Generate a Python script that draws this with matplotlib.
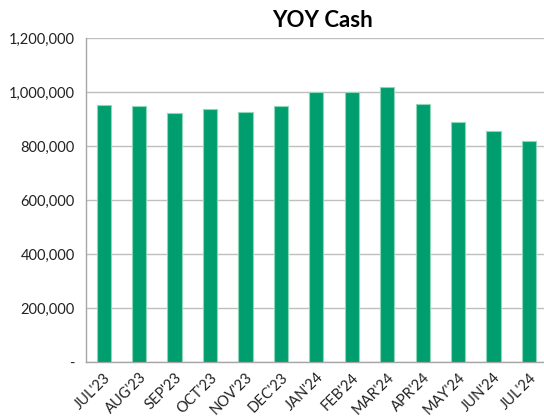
import matplotlib.pyplot as plt
import numpy as np
from matplotlib.ticker import FuncFormatter

months = ["JUL'23", "AUG'23", "SEP'23", "OCT'23", "NOV'23", "DEC'23",
          "JAN'24", "FEB'24", "MAR'24", "APR'24", "MAY'24", "JUN'24", "JUL'24"]
cash = [954000, 947000, 922000, 936000, 926000, 948000,
        1000000, 1000000, 1018000, 956000, 889000, 857000, 819000]
y_ticks = [0, 200000, 400000, 600000, 800000, 1000000, 1200000]

plt.rcParams["font.family"] = ["Lato", "DejaVu Sans"]

fig = plt.figure(figsize=(5.44, 4.19), dpi=100)
ax = fig.add_axes([0.158, 0.136, 0.847, 0.773])

x = np.arange(len(months))
ax.bar(x, cash, width=0.4, color="#009E6E", edgecolor="#8FD6B8", linewidth=0.8, zorder=3)

ax.set_xlim(-0.5, len(months) - 0.5)
ax.set_ylim(0, 1200000)
ax.set_yticks(y_ticks)
ax.yaxis.set_major_formatter(FuncFormatter(lambda v, _: "-" if v == 0 else f"{v:,.0f}"))
ax.set_xticks(x)
ax.set_xticklabels(months, rotation=45, ha="right", rotation_mode="anchor")

ax.tick_params(axis="both", length=0, labelsize=10.5, colors="#222222")
ax.tick_params(axis="y", pad=8)
ax.tick_params(axis="x", pad=6)
ax.grid(axis="y", color="#BFBFBF", linewidth=1, zorder=0)
for side in ("top", "right"):
    ax.spines[side].set_visible(False)
for side in ("left", "bottom"):
    ax.spines[side].set_color("#A6A6A6")
    ax.spines[side].set_linewidth(1)

fig.text(0.592, 0.975, "YOY Cash", ha="center", va="top", fontsize=16, fontweight="bold")

plt.savefig("out.png", dpi=100)
